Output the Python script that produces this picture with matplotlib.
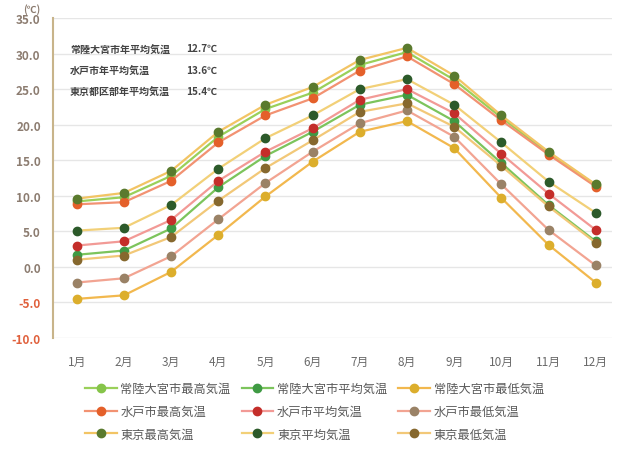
import matplotlib
matplotlib.use("Agg")
import matplotlib.pyplot as plt
from matplotlib.ticker import FixedLocator

plt.rcParams['font.family'] = ['Noto Sans CJK JP', 'DejaVu Sans']

months = ['1月', '2月', '3月', '4月', '5月', '6月', '7月', '8月', '9月', '10月', '11月', '12月']

omiya_high = [9.2, 9.8, 12.8, 18.3, 22.2, 24.5, 28.4, 30.2, 26.3, 21.0, 16.0, 11.5]
omiya_avg = [1.7, 2.3, 5.4, 11.2, 15.6, 19.0, 22.8, 24.2, 20.5, 14.6, 8.7, 3.6]
omiya_low = [-4.5, -4.0, -0.7, 4.5, 9.9, 14.8, 19.0, 20.5, 16.7, 9.7, 3.1, -2.2]
mito_high = [8.8, 9.1, 12.1, 17.5, 21.3, 23.7, 27.6, 29.6, 25.7, 20.6, 15.8, 11.3]
mito_avg = [3.0, 3.6, 6.6, 12.1, 16.2, 19.5, 23.5, 25.0, 21.6, 15.9, 10.3, 5.2]
mito_low = [-2.2, -1.6, 1.5, 6.7, 11.8, 16.2, 20.2, 22.0, 18.3, 11.6, 5.2, 0.2]
tokyo_high = [9.6, 10.4, 13.5, 19.0, 22.8, 25.3, 29.1, 30.8, 26.9, 21.3, 16.2, 11.6]
tokyo_avg = [5.1, 5.5, 8.7, 13.8, 18.1, 21.3, 25.0, 26.4, 22.8, 17.5, 12.0, 7.6]
tokyo_low = [1.0, 1.6, 4.2, 9.3, 13.9, 17.8, 21.8, 23.0, 19.7, 14.2, 8.5, 3.4]

annual_labels = ['常陸大宮市年平均気温', '水戸市年平均気温', '東京都区部年平均気温']
annual_values = ['12.7℃', '13.6℃', '15.4℃']

yticks = [-10, -5, 0, 5, 10, 15, 20, 25, 30, 35]

# (label, values, line colour, marker colour)
series = [
    ('常陸大宮市最高気温', omiya_high, '#9ad05a', '#86c44a'),
    ('常陸大宮市平均気温', omiya_avg, '#7cc45c', '#3f9a44'),
    ('常陸大宮市最低気温', omiya_low, '#f2b84e', '#dcae2c'),
    ('水戸市最高気温', mito_high, '#f29272', '#e4602a'),
    ('水戸市平均気温', mito_avg, '#f29a96', '#c42e2a'),
    ('水戸市最低気温', mito_low, '#f2a492', '#9a8266'),
    ('東京最高気温', tokyo_high, '#f2c464', '#5a7a2e'),
    ('東京平均気温', tokyo_avg, '#f2d078', '#2c5a2a'),
    ('東京最低気温', tokyo_low, '#f2c878', '#86682e'),
]

fig = plt.figure(figsize=(6.19, 4.52), dpi=100)
ax = fig.add_axes([0.086, 0.25, 0.903, 0.708])

x = list(range(1, 13))
handles = []
for label, vals, lc, mc in series:
    h, = ax.plot(x, vals, color=lc, lw=1.6, marker='o', markersize=6,
                 markerfacecolor=mc, markeredgecolor=mc, label=label, zorder=3)
    handles.append(h)

ax.set_xlim(0.5, 12.35)
ax.set_ylim(-10, 35)
ax.yaxis.set_major_locator(FixedLocator(yticks))
ax.set_yticklabels([f'{v:.1f}' for v in yticks])
for t, v in zip(ax.get_yticklabels(), yticks):
    t.set_color('#e0603c' if v < 0 else '#8c7c70')
    t.set_fontsize(8.5)
    t.set_fontweight('bold')
ax.set_xticks(x)
ax.set_xticklabels(months, fontsize=8.5, color='#6a6a6a')
ax.tick_params(axis='both', length=0)
ax.tick_params(axis='y', pad=9)
ax.tick_params(axis='x', pad=12)

ax.grid(axis='y', color='#e6e6e6', lw=1.0, zorder=0)
for s in ['top', 'right', 'bottom']:
    ax.spines[s].set_visible(False)
ax.spines['left'].set_color('#c8b48a')
ax.spines['left'].set_linewidth(1.5)

ax.text(-0.038, 1.012, '(℃)', transform=ax.transAxes, fontsize=7,
        color='#8c7c70', fontweight='bold', ha='center', va='bottom')

for i, (lab, val) in enumerate(zip(annual_labels, annual_values)):
    yy = 0.905 - i * 0.066
    ax.text(0.03, yy, lab, transform=ax.transAxes, fontsize=7.2,
            color='#444444', va='center', ha='left', fontweight='bold')
    ax.text(0.293, yy, val, transform=ax.transAxes, fontsize=7.2,
            color='#444444', va='center', ha='right', fontweight='bold')

order = [0, 3, 6, 1, 4, 7, 2, 5, 8]
fig.legend([handles[i] for i in order], [series[i][0] for i in order],
           loc='upper center', bbox_to_anchor=(0.508, 0.158), ncol=3,
           frameon=False, fontsize=8.8, handlelength=2.6, handletextpad=0.3,
           columnspacing=0.9, labelspacing=0.8, labelcolor='#5a5a5a',
           borderaxespad=0.0, borderpad=0.2)

fig.savefig('out.png', dpi=100, facecolor='white')
